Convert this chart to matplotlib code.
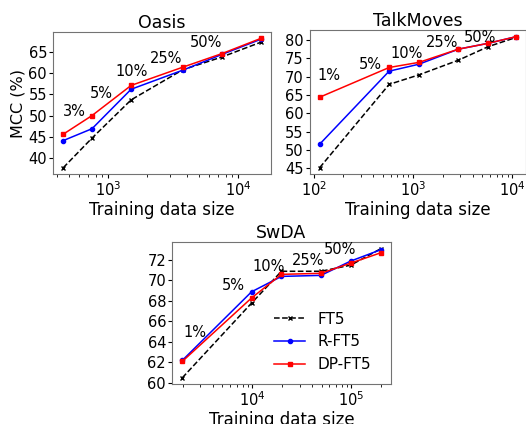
import matplotlib
matplotlib.use("Agg")
import matplotlib.pyplot as plt

# ---------------- data ----------------
pct_labels_oasis = ["3%", "5%", "10%", "25%", "50%"]
oasis_x = [450, 750, 1500, 3750, 7500, 15000]
oasis_ft5 = [37.7, 44.7, 53.7, 60.8, 63.8, 67.3]
oasis_rft5 = [44.1, 46.9, 56.2, 60.7, 64.4, 68.0]
oasis_dpft5 = [45.6, 50.0, 57.1, 61.4, 64.6, 68.2]
oasis_lab_x = [545, 890, 1514, 2764, 5610]
oasis_lab_y = [50.9, 55.2, 60.3, 63.4, 67.2]

pct_labels_tm = ["1%", "5%", "10%", "25%", "50%"]
tm_x = [115, 577, 1154, 2885, 5770, 11000]
tm_ft5 = [45.2, 67.9, 70.5, 74.5, 78.2, 80.7]
tm_rft5 = [51.6, 71.5, 73.4, 77.5, 79.1, 80.9]
tm_dpft5 = [64.4, 72.5, 73.9, 77.5, 79.1, 80.9]
tm_lab_x = [143, 375, 875, 1977, 4790]
tm_lab_y = [70.2, 73.4, 76.4, 79.3, 80.6]

pct_labels_sw = ["1%", "5%", "10%", "25%", "50%"]
sw_x = [1970, 9850, 19700, 49250, 98500, 197000]
sw_ft5 = [60.5, 67.8, 70.9, 70.9, 71.5, 73.1]
sw_rft5 = [62.2, 68.9, 70.4, 70.5, 71.9, 73.0]
sw_dpft5 = [62.1, 68.3, 70.6, 70.7, 71.7, 72.7]
sw_lab_x = [2630, 6410, 14650, 36200, 76600]
sw_lab_y = [64.95, 69.5, 71.4, 72.0, 73.0]

series_names = ["FT5", "R-FT5", "DP-FT5"]

FS = 10.5
plt.rcParams["font.family"] = ["DejaVu Sans"]
plt.rcParams["font.size"] = FS

fig = plt.figure(figsize=(5.26, 4.24), dpi=100)
ax1 = fig.add_axes([0.1013, 0.589, 0.414, 0.336])
ax2 = fig.add_axes([0.589, 0.589, 0.411, 0.340])
ax3 = fig.add_axes([0.3276, 0.0936, 0.415, 0.335])


def draw(ax, x, ft5, rft5, dpft5, labs, lx, ly, title):
    ax.plot(x, ft5, color="black", ls="--", marker="x", ms=3, lw=1.1, label=series_names[0])
    ax.plot(x, rft5, color="blue", ls="-", marker="o", ms=3, lw=1.1, label=series_names[1])
    ax.plot(x, dpft5, color="red", ls="-", marker="s", ms=3, lw=1.1, label=series_names[2])
    ax.set_xscale("log")
    for t, a, b in zip(labs, lx, ly):
        ax.text(a, b, t, ha="center", va="center", fontsize=FS)
    ax.set_title(title, fontsize=12.5, pad=3)
    ax.set_xlabel("Training data size", fontsize=12, labelpad=1)
    ax.tick_params(labelsize=FS, length=3, pad=1.5)
    ax.tick_params(which="minor", length=1.8)
    for s in ax.spines.values():
        s.set_edgecolor("0.45")


draw(ax1, oasis_x, oasis_ft5, oasis_rft5, oasis_dpft5, pct_labels_oasis, oasis_lab_x, oasis_lab_y, "Oasis")
draw(ax2, tm_x, tm_ft5, tm_rft5, tm_dpft5, pct_labels_tm, tm_lab_x, tm_lab_y, "TalkMoves")
draw(ax3, sw_x, sw_ft5, sw_rft5, sw_dpft5, pct_labels_sw, sw_lab_x, sw_lab_y, "SwDA")

ax1.set_ylabel("MCC (%)", fontsize=11.5, labelpad=2)
ax1.set_yticks([40, 45, 50, 55, 60, 65])
ax2.set_yticks([45, 50, 55, 60, 65, 70, 75, 80])
ax3.set_yticks([60, 62, 64, 66, 68, 70, 72])

ax3.legend(loc="lower right", bbox_to_anchor=(0.965, 0.0), frameon=False, fontsize=11,
           handlelength=2.0, borderaxespad=0.4, labelspacing=0.5)

fig.savefig("out.png", dpi=100)
